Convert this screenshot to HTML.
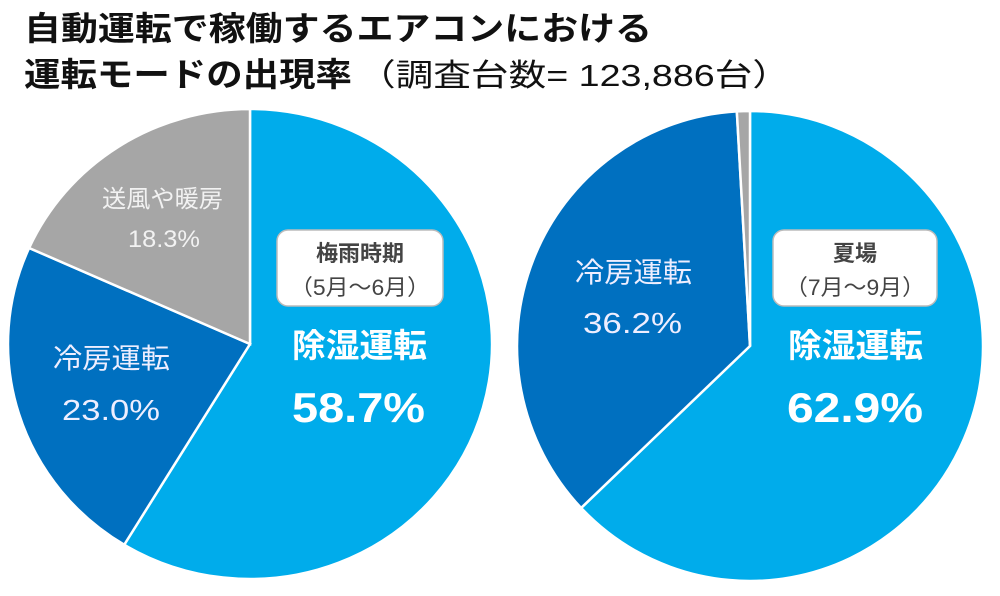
<!DOCTYPE html>
<html><head><meta charset="utf-8"><style>
body{margin:0;background:#fff;font-family:"Liberation Sans","Noto Sans CJK JP",sans-serif}
svg text{font-family:"Liberation Sans","Noto Sans CJK JP",sans-serif}
</style></head><body>
<svg width="1000" height="591" viewBox="0 0 1000 591">
<text x="24" y="40" font-size="33" font-weight="bold" fill="#111" textLength="628" lengthAdjust="spacingAndGlyphs">自動運転で稼働するエアコンにおける</text>
<text x="24" y="86" font-size="33" font-weight="bold" fill="#111" textLength="328" lengthAdjust="spacingAndGlyphs">運転モードの出現率</text>
<text x="358" y="86" font-size="31" fill="#111" textLength="432" lengthAdjust="spacingAndGlyphs">（調査台数= 123,886台）</text>
<g id="pies"></g>
<g>
<rect x="277" y="230" width="166" height="76" rx="11" fill="#fff" stroke="#bbb" stroke-width="1.5"/>
<text x="360" y="261" text-anchor="middle" font-size="22" font-weight="bold" fill="#444">梅雨時期</text>
<text x="360" y="295" text-anchor="middle" font-size="22" fill="#444" textLength="140" lengthAdjust="spacingAndGlyphs">（5月～6月）</text>
</g>
<g>
<rect x="773" y="230" width="164" height="76" rx="11" fill="#fff" stroke="#bbb" stroke-width="1.5"/>
<text x="855" y="261" text-anchor="middle" font-size="22" font-weight="bold" fill="#444">夏場</text>
<text x="855" y="295" text-anchor="middle" font-size="22" fill="#444" textLength="140" lengthAdjust="spacingAndGlyphs">（7月～9月）</text>
</g>
<g fill="#fff">
<text x="292" y="357" font-size="33" font-weight="bold" textLength="135" lengthAdjust="spacingAndGlyphs">除湿運転</text>
<text x="292" y="422" font-size="42" font-weight="bold" textLength="133" lengthAdjust="spacingAndGlyphs">58.7%</text>
<text x="53" y="368" font-size="28" fill="#eef" textLength="117" lengthAdjust="spacingAndGlyphs">冷房運転</text>
<text x="62" y="420" font-size="29" fill="#eef" textLength="98" lengthAdjust="spacingAndGlyphs">23.0%</text>
<text x="102" y="207" font-size="24" fill="#f2f2f2" textLength="121" lengthAdjust="spacingAndGlyphs">送風や暖房</text>
<text x="128" y="247" font-size="24" fill="#f2f2f2" textLength="72" lengthAdjust="spacingAndGlyphs">18.3%</text>
<text x="788" y="357" font-size="33" font-weight="bold" textLength="135" lengthAdjust="spacingAndGlyphs">除湿運転</text>
<text x="787" y="422" font-size="42" font-weight="bold" textLength="136" lengthAdjust="spacingAndGlyphs">62.9%</text>
<text x="575" y="282" font-size="28" fill="#eef" textLength="117" lengthAdjust="spacingAndGlyphs">冷房運転</text>
<text x="583" y="333" font-size="29" fill="#eef" textLength="99" lengthAdjust="spacingAndGlyphs">36.2%</text>
</g>
</svg>
<script>
const categories = ["除湿運転","冷房運転","送風や暖房"];
const leftValues = [58.7, 23.0, 18.3];
const rightValues = [62.9, 36.2, 0.9];
const colors = ["#00ACEB","#0070C0","#A6A6A6"];
const NS="http://www.w3.org/2000/svg";
const g=document.getElementById('pies');
function pie(values,cx,cy,rx,ry,prefix){
  const total=values.reduce((a,b)=>a+b,0);
  let a0=-Math.PI/2;
  values.forEach((v,i)=>{
    const a1=a0+v/total*2*Math.PI;
    const x0=cx+rx*Math.cos(a0),y0=cy+ry*Math.sin(a0),x1=cx+rx*Math.cos(a1),y1=cy+ry*Math.sin(a1);
    const large=(a1-a0)>Math.PI?1:0;
    const p=document.createElementNS(NS,'path');
    p.setAttribute('d',`M${cx},${cy}L${x0},${y0}A${rx},${ry} 0 ${large} 1 ${x1},${y1}Z`);
    p.setAttribute('fill',colors[i]);p.setAttribute('stroke','#fff');p.setAttribute('stroke-width','2.5');
    
    
    p.setAttribute('id',prefix+'-'+i);
    g.appendChild(p);
    a0=a1;
  });
}
pie(leftValues,250,344,242,235,'left');
pie(rightValues,750,346,233,235,'right');
</script>
</body></html>
